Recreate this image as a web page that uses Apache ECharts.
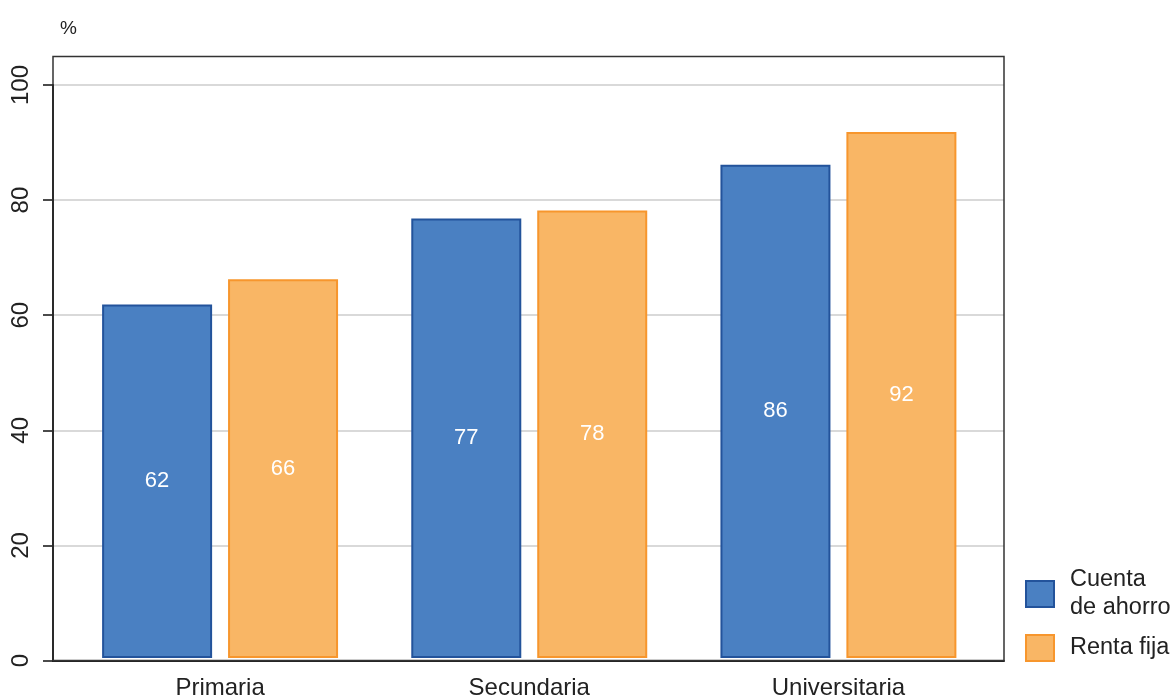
<!DOCTYPE html>
<html>
<head>
<meta charset="utf-8">
<script src="https://cdn.jsdelivr.net/npm/echarts@6/dist/echarts.min.js"></script>
<style>html,body{margin:0;padding:0;background:#fff}#c{width:1174px;height:700px}</style>
</head>
<body>
<div id="c"></div>
<script>
const categories = ['Primaria', 'Secundaria', 'Universitaria'];
const cuentaAhorro = [61.7, 76.7, 86.1];
const rentaFija = [66.1, 78.1, 91.8];
const labelsCuenta = ['62', '77', '86'];
const labelsRenta = ['66', '78', '92'];
const yTicks = [0, 20, 40, 60, 80, 100];

const FONT = 'Liberation Sans, Arial, sans-serif';
const chart = echarts.init(document.getElementById('c'), null, {renderer: 'canvas'});
chart.setOption({
  animation: false,
  textStyle: {fontFamily: FONT},
  title: {text: '%', left: 55, top: 14, textStyle: {fontSize: 19, fontWeight: 'normal', color: '#222', fontFamily: FONT}},
  graphic: [{
    type: 'rect', shape: {x: 53, y: 56.5, width: 951, height: 604},
    style: {fill: 'none', stroke: '#333', lineWidth: 1.5}, z: 100, silent: true
  }],
  grid: [
    {left: 53, right: 170, top: 85, bottom: 39.5},
    {left: 65.5, right: 181, top: 85, bottom: 39.5}
  ],
  xAxis: [
    {gridIndex: 0, type: 'value', min: 0, max: 1, show: true,
     axisLine: {show: true, lineStyle: {color: '#222', width: 2}}, axisTick: {show: false},
     axisLabel: {show: false}, splitLine: {show: false}},
    {gridIndex: 1, type: 'category', data: categories,
     axisLine: {show: false}, axisTick: {show: false},
     axisLabel: {fontSize: 24, color: '#222', margin: 18, fontFamily: FONT}}
  ],
  yAxis: [
    {gridIndex: 0, type: 'value', min: 0, max: 100, interval: 20,
     axisLine: {show: true, lineStyle: {color: '#111', width: 2}},
     axisTick: {show: true, length: 10, lineStyle: {color: '#111', width: 1.5}},
     axisLabel: {rotate: 90, fontSize: 24, color: '#222', margin: 20, fontFamily: FONT,
       formatter: v => yTicks.includes(v) ? String(v) : ''},
     splitLine: {show: true, lineStyle: {color: '#d9d9d9', width: 2}}},
    {gridIndex: 1, type: 'value', min: 0, max: 100, interval: 20, show: false,
     splitLine: {show: false}}
  ],
  legend: {
    orient: 'vertical', left: 1025, top: 566, padding: 0, icon: 'rect',
    itemWidth: 28, itemHeight: 26, itemGap: 12,
    textStyle: {fontSize: 23.5, color: '#222', lineHeight: 28, padding: [0, 0, 0, 11], fontFamily: FONT},
    data: ['Cuenta\nde ahorro', 'Renta fija']
  },
  series: [
    {name: 'Cuenta\nde ahorro', type: 'bar', xAxisIndex: 1, yAxisIndex: 1, data: cuentaAhorro,
     barWidth: 110, barGap: '14.5%',
     itemStyle: {color: '#4a80c2', borderColor: '#23539b', borderWidth: 2},
     label: {show: true, position: 'inside', color: '#fff', fontSize: 22, fontFamily: FONT,
       formatter: p => labelsCuenta[p.dataIndex]}},
    {name: 'Renta fija', type: 'bar', xAxisIndex: 1, yAxisIndex: 1, data: rentaFija,
     barWidth: 110, barGap: '14.5%',
     itemStyle: {color: '#f9b665', borderColor: '#f7962d', borderWidth: 2},
     label: {show: true, position: 'inside', color: '#fff', fontSize: 22, fontFamily: FONT,
       formatter: p => labelsRenta[p.dataIndex]}}
  ]
});
</script>
</body>
</html>
